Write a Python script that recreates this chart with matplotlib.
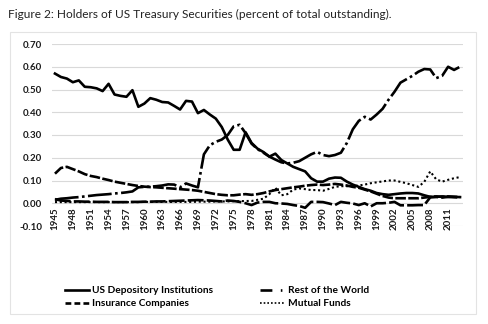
import matplotlib

matplotlib.use("Agg")
import matplotlib.pyplot as plt
from matplotlib.lines import Line2D
from matplotlib.ticker import FormatStrFormatter

years = list(range(1945, 2014))

depository = [
    0.570, 0.555, 0.548, 0.532, 0.540, 0.512, 0.510, 0.505, 0.493, 0.525,
    0.478, 0.472, 0.468, 0.497, 0.424, 0.438, 0.462, 0.455, 0.445, 0.443,
    0.428, 0.412, 0.450, 0.447, 0.396, 0.410, 0.390, 0.372, 0.335, 0.280,
    0.235, 0.235, 0.312, 0.265, 0.240, 0.225, 0.205, 0.218, 0.190, 0.175,
    0.160, 0.150, 0.140, 0.110, 0.095, 0.095, 0.108, 0.113, 0.112, 0.095,
    0.082, 0.072, 0.062, 0.055, 0.045, 0.040, 0.037, 0.040, 0.043, 0.045,
    0.045, 0.043, 0.035, 0.028, 0.028, 0.030, 0.028, 0.028, 0.027,
]

rest_of_world = [
    0.015, 0.020, 0.022, 0.025, 0.027, 0.030, 0.033, 0.036, 0.038, 0.040,
    0.043, 0.045, 0.048, 0.052, 0.070, 0.072, 0.073, 0.075, 0.078, 0.083,
    0.082, 0.070, 0.087, 0.078, 0.070, 0.215, 0.255, 0.270, 0.280, 0.300,
    0.338, 0.345, 0.308, 0.262, 0.238, 0.222, 0.205, 0.192, 0.180, 0.175,
    0.178, 0.185, 0.200, 0.215, 0.226, 0.212, 0.207, 0.212, 0.222, 0.265,
    0.325, 0.362, 0.380, 0.368, 0.390, 0.415, 0.455, 0.490, 0.530, 0.545,
    0.560, 0.578, 0.590, 0.588, 0.550, 0.560, 0.600, 0.586, 0.600,
]

insurance = [
    0.130, 0.155, 0.160, 0.150, 0.140, 0.128, 0.120, 0.115, 0.108, 0.102,
    0.095, 0.090, 0.085, 0.080, 0.076, 0.073, 0.071, 0.070, 0.068, 0.066,
    0.064, 0.062, 0.060, 0.058, 0.055, 0.050, 0.045, 0.040, 0.037, 0.035,
    0.035, 0.038, 0.040, 0.037, 0.040, 0.045, 0.052, 0.058, 0.062, 0.066,
    0.070, 0.073, 0.077, 0.080, 0.082, 0.080, 0.082, 0.085, 0.082, 0.078,
    0.072, 0.068, 0.060, 0.052, 0.042, 0.032, 0.025, 0.022, 0.022, 0.022,
    0.022, 0.022, 0.025, 0.028, 0.030, 0.028, 0.030, 0.028, 0.027,
]

mutual_funds = [
    0.005, 0.005, 0.005, 0.005, 0.005, 0.005, 0.005, 0.005, 0.005, 0.005,
    0.005, 0.005, 0.005, 0.005, 0.005, 0.006, 0.006, 0.006, 0.006, 0.006,
    0.006, 0.006, 0.006, 0.006, 0.007, 0.007, 0.007, 0.008, 0.008, 0.008,
    0.009, 0.009, 0.010, 0.010, 0.015, 0.020, 0.040, 0.068, 0.035, 0.040,
    0.060, 0.065, 0.062, 0.058, 0.058, 0.055, 0.063, 0.072, 0.075, 0.075,
    0.075, 0.078, 0.082, 0.088, 0.092, 0.096, 0.100, 0.100, 0.094, 0.088,
    0.080, 0.072, 0.094, 0.140, 0.105, 0.095, 0.103, 0.110, 0.115,
]

# unlabeled fifth series hugging zero (not in the legend)
other_holders = [
    0.018, 0.012, 0.010, 0.008, 0.008, 0.007, 0.007, 0.006, 0.006, 0.006,
    0.005, 0.005, 0.005, 0.006, 0.006, 0.007, 0.007, 0.008, 0.008, 0.009,
    0.010, 0.011, 0.012, 0.013, 0.014, 0.013, 0.012, 0.010, 0.008, 0.012,
    0.010, 0.006, 0.000, -0.008, 0.003, 0.006, 0.006, 0.000, -0.001, -0.003,
    -0.008, -0.012, -0.020, 0.006, 0.006, 0.005, -0.001, -0.008, 0.006, 0.002,
    -0.001, -0.008, 0.000, -0.014, 0.000, 0.000, 0.002, 0.006, -0.009, -0.009,
    -0.009, -0.008, -0.008, 0.026, 0.028, 0.025, 0.028, 0.027, 0.026,
]

year_ticks = list(range(1945, 2014, 3))
y_ticks = [-0.10, 0.00, 0.10, 0.20, 0.30, 0.40, 0.50, 0.60, 0.70]

plt.rcParams["font.family"] = ["Lato", "DejaVu Sans"]

fig = plt.figure(figsize=(4.88, 3.24), dpi=100)
fig.patches.append(
    plt.Rectangle((10 / 488, 1 - 314 / 324), 466 / 488, 282 / 324,
                  transform=fig.transFigure, fill=False,
                  edgecolor="#e3e3e3", linewidth=0.8)
)
fig.text(8 / 488, 1 - 14 / 324,
         "Figure 2: Holders of US Treasury Securities (percent of total outstanding).",
         fontsize=8.6, color="#222222", va="center", ha="left")

ax = fig.add_axes([52 / 488, 1 - 226 / 324, 411 / 488, 182 / 324])

lw = 1.9
ax.plot(years, depository, color="black", lw=lw, solid_joinstyle="round")
ax.plot(years, insurance, color="black", lw=lw, linestyle=(0, (4, 0.9)))
ax.plot(years, rest_of_world, color="black", lw=lw, linestyle=(0, (9, 1.3, 1, 1.3)))
ax.plot(years, mutual_funds, color="black", lw=1.5, linestyle=(0, (1, 1.3)))
ax.plot(years, other_holders, color="black", lw=lw, linestyle=(0, (6, 1.2)))

# move the category axis to y = 0 first (this rebuilds the ticks)
for side in ["top", "right", "left"]:
    ax.spines[side].set_visible(False)
ax.spines["bottom"].set_position(("data", 0))
ax.spines["bottom"].set_visible(False)

ax.set_xlim(1944.5, 2013.5)
ax.set_ylim(-0.10, 0.70)
ax.set_yticks(y_ticks)
ax.yaxis.set_major_formatter(FormatStrFormatter("%.2f"))
ax.set_xticks(year_ticks)
ax.set_xticklabels([str(y) for y in year_ticks])
ax.grid(axis="y", color="#d9d9d9", lw=0.8)
ax.set_axisbelow(True)
ax.tick_params(axis="both", length=0, labelsize=7, colors="#1a1a1a")
ax.tick_params(axis="y", pad=7)
ax.tick_params(axis="x", pad=3, labelrotation=90)
for lab in ax.get_xticklabels() + ax.get_yticklabels():
    lab.set_fontweight("bold")

handles = [
    Line2D([], [], color="black", lw=lw),
    Line2D([], [], color="black", lw=lw, linestyle=(0, (2.2, 1.2))),
    Line2D([], [], color="black", lw=lw, linestyle=(0, (4.5, 3.2, 0.6, 3))),
    Line2D([], [], color="black", lw=1.2, linestyle=(0, (1, 1.2))),
]
labels = ["US Depository Institutions", "Insurance Companies",
          "Rest of the World", "Mutual Funds"]
ax.legend(handles, labels, ncol=2, loc="upper left",
          bbox_to_anchor=(56 / 488, 1 - 277 / 324),
          bbox_transform=fig.transFigure, frameon=False,
          prop={"weight": "bold", "size": 7.3}, handlelength=2.4,
          handletextpad=0.3, columnspacing=4.6, labelspacing=0.4)

fig.savefig("out.png", dpi=100)
